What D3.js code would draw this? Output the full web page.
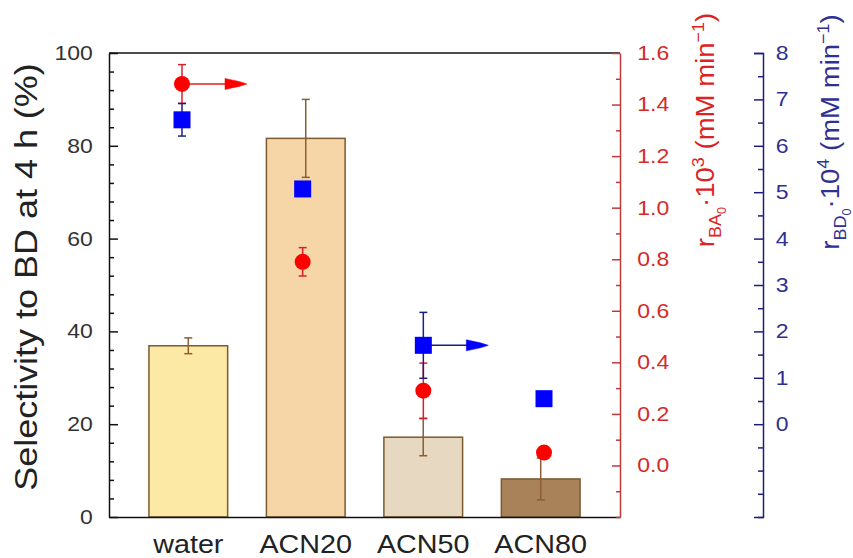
<!DOCTYPE html>
<html>
<head>
<meta charset="utf-8">
<script src="https://cdn.jsdelivr.net/npm/d3@7"></script>
<style>
  body { margin: 0; background: #fff; }
  svg { font-family: "Liberation Sans", Arial, sans-serif; }
  .domain { stroke-width: 1.5; }
  .tick line { stroke-width: 1.5; }
</style>
</head>
<body>
<svg width="853" height="558"></svg>
<script>
const categories = ["water", "ACN20", "ACN50", "ACN80"];

// bars: selectivity to BD at 4 h (%)
const selectivity = [36.9, 81.6, 17.2, 8.2];
const selectivityErr = [1.7, 8.4, 4.0, 4.5];

// red circles: r_BA0 * 10^3
const rBA = [1.48, 0.79, 0.29, 0.05];
const rBAErr = [0.075, 0.055, 0.107, 0];

// blue squares: r_BD0 * 10^4
const rBD = [6.56, 5.07, 1.70, 0.55];
const rBDErr = [0.35, 0, 0.71, 0];

// arrows pointing to the matching axis
const arrows = [
  { cat: "water", series: "BA" },
  { cat: "ACN50", series: "BD" }
];

const leftTicks = [0, 20, 40, 60, 80, 100];
const redTicks = [0.0, 0.2, 0.4, 0.6, 0.8, 1.0, 1.2, 1.4, 1.6];
const blueTicks = [0, 1, 2, 3, 4, 5, 6, 7, 8];

const barFill = ["#fde9a6", "#f6d5a6", "#e7d8c1", "#a9825a"];
const barStroke = "#7a5a2e";
const errBrown = "#8b5e34";
const red = "#ff0000";
const redAxis = "#c0393b";
const redText = "#d62a2a";
const blue = "#0000ff";
const navy = "#1d1d80";
const navyText = "#2e3192";

const svg = d3.select("svg");
const m = { left: 109, right: 620, top: 53, bottom: 517 };
const blueX = 763;
const k = 1.15; // horizontal stretch of the lettering

const x = d3.scaleBand()
  .domain(categories)
  .range([m.left, m.right])
  .paddingInner(0.33)
  .paddingOuter(0.34);

const xm = d3.scalePoint()
  .domain(categories)
  .range([182, 544]);

const y = d3.scaleLinear().domain([0, 100]).range([m.bottom, m.top]);
const yRed = d3.scaleLinear().domain([-0.2, 1.6]).range([m.bottom, m.top]);
const yBlue = d3.scaleLinear().domain([-2, 8]).range([m.bottom, m.top]);

const rows = categories.map((c, i) => ({
  cat: c, sel: selectivity[i], selErr: selectivityErr[i],
  ba: rBA[i], baErr: rBAErr[i], bd: rBD[i], bdErr: rBDErr[i], fill: barFill[i]
}));

// bars
svg.append("g").selectAll("rect")
  .data(rows)
  .join("rect")
    .attr("x", d => x(d.cat))
    .attr("y", d => y(d.sel))
    .attr("width", x.bandwidth())
    .attr("height", d => y(0) - y(d.sel))
    .attr("fill", d => d.fill)
    .attr("stroke", barStroke)
    .attr("stroke-width", 1.5);

const errorBars = (data, cx, cy, v, e, color) => {
  const g = svg.append("g")
    .attr("stroke", color)
    .attr("stroke-width", 1.5);
  const cap = 4;
  const items = g.selectAll("g")
    .data(data.filter(d => d[e] > 0))
    .join("g");
  items.append("line")
    .attr("x1", cx).attr("x2", cx)
    .attr("y1", d => cy(d[v] + d[e]))
    .attr("y2", d => cy(d[v] - d[e]));
  [1, -1].forEach(s => items.append("line")
    .attr("x1", d => cx(d) - cap).attr("x2", d => cx(d) + cap)
    .attr("y1", d => cy(d[v] + s * d[e]))
    .attr("y2", d => cy(d[v] + s * d[e])));
};

errorBars(rows, d => x(d.cat) + x.bandwidth() / 2, y, "sel", "selErr", errBrown);
errorBars(rows, d => xm(d.cat), yRed, "ba", "baErr", "#d8202a");
errorBars(rows, d => xm(d.cat), yBlue, "bd", "bdErr", navy);

// arrows
const arrowHead = "M0,-5.5 L14,-2.5 L22,0 L14,2.5 L0,5.5 Z";
arrows.forEach(a => {
  const i = categories.indexOf(a.cat);
  const cx = xm(a.cat);
  const cy = a.series === "BA" ? yRed(rBA[i]) : yBlue(rBD[i]);
  const col = a.series === "BA" ? "#e02020" : navy;
  const fill = a.series === "BA" ? red : blue;
  const g = svg.append("g").attr("transform", `translate(${cx},${cy})`);
  g.append("line")
    .attr("x1", 0).attr("x2", 50)
    .attr("stroke", col)
    .attr("stroke-width", 1.5);
  g.append("path")
    .attr("transform", "translate(43,0)")
    .attr("d", arrowHead)
    .attr("fill", fill)
    .attr("stroke", fill)
    .attr("stroke-width", 0.5);
});

// markers
svg.append("g").selectAll("circle")
  .data(rows)
  .join("circle")
    .attr("cx", d => xm(d.cat))
    .attr("cy", d => yRed(d.ba))
    .attr("r", 8)
    .attr("fill", red);

svg.append("g").selectAll("rect")
  .data(rows)
  .join("rect")
    .attr("x", d => xm(d.cat) - 8.5)
    .attr("y", d => yBlue(d.bd) - 8.5)
    .attr("width", 17)
    .attr("height", 17)
    .attr("fill", blue);

// frame
svg.append("line")
  .attr("x1", m.left).attr("x2", m.right)
  .attr("y1", m.top).attr("y2", m.top)
  .attr("stroke", "#111").attr("stroke-width", 1.5);

// bottom axis
const gx = svg.append("g")
  .attr("transform", `translate(0,${m.bottom})`)
  .call(d3.axisBottom(x).tickSize(0).tickPadding(18));
gx.select(".domain").attr("stroke", "#111");
gx.selectAll("text")
  .attr("font-size", 25)
  .attr("fill", "#222")
  .attr("transform", `scale(${k},1)`);

// left axis
const minor = (step, lo, hi, majors) =>
  d3.range(lo, hi + step / 2, step).filter(v => !majors.some(t => Math.abs(t - v) < 1e-6));

const gl = svg.append("g").attr("transform", `translate(${m.left},0)`);
gl.append("g")
  .call(d3.axisLeft(y).tickValues(minor(4, 0, 100, leftTicks)).tickSize(-5).tickSizeOuter(0).tickFormat(""))
  .call(g => g.select(".domain").remove());
gl.append("g")
  .call(d3.axisLeft(y).tickValues(leftTicks).tickSize(-9).tickSizeOuter(0).tickPadding(14))
  .call(g => g.selectAll("text")
    .attr("font-size", 20)
    .attr("fill", "#333")
    .attr("transform", `scale(${k},1)`));
gl.selectAll("path, line").attr("stroke", "#111");

// red axis
const gr = svg.append("g").attr("transform", `translate(${m.right},0)`);
gr.append("g")
  .call(d3.axisRight(yRed).tickValues(minor(0.1, -0.2, 1.6, redTicks)).tickSize(-4).tickSizeOuter(0).tickFormat(""))
  .call(g => g.select(".domain").remove());
gr.append("g")
  .call(d3.axisRight(yRed).tickValues(redTicks).tickSize(-8).tickSizeOuter(0).tickPadding(15).tickFormat(d3.format(".1f")))
  .call(g => g.selectAll("text")
    .attr("font-size", 20)
    .attr("fill", redText)
    .attr("transform", `scale(${k},1)`));
gr.selectAll("path, line").attr("stroke", redAxis);

// blue axis
const gb = svg.append("g").attr("transform", `translate(${blueX},0)`);
gb.append("g")
  .call(d3.axisRight(yBlue).tickValues(minor(0.5, -2, 8, blueTicks)).tickSize(-5).tickSizeOuter(0).tickFormat(""))
  .call(g => g.select(".domain").remove());
gb.append("g")
  .call(d3.axisRight(yBlue).tickValues(blueTicks).tickSize(-9).tickSizeOuter(-9).tickPadding(11))
  .call(g => g.selectAll("text")
    .attr("font-size", 20)
    .attr("fill", navyText)
    .attr("transform", `scale(${k},1)`));
gb.selectAll("path, line").attr("stroke", navy);

// axis titles
svg.append("text")
  .attr("transform", `translate(37,277) rotate(-90) scale(1.16,1)`)
  .attr("text-anchor", "middle")
  .attr("font-size", 31)
  .attr("fill", "#222")
  .text("Selectivity to BD at 4 h (%)");

const rateTitle = (cx, cy, sub, pow, color) => {
  const t = svg.append("text")
    .attr("transform", `translate(${cx},${cy}) rotate(-90) scale(1.06,1)`)
    .attr("text-anchor", "middle")
    .attr("font-size", 26)
    .attr("fill", color);
  t.append("tspan").text("r");
  t.append("tspan").attr("font-size", 17).attr("dy", 7).text(sub);
  t.append("tspan").attr("font-size", 12).attr("dy", 5).text("0");
  t.append("tspan").attr("dy", -12).text("·10");
  t.append("tspan").attr("font-size", 17).attr("dy", -10).text(pow);
  t.append("tspan").attr("dy", 10).text(" (mM min");
  t.append("tspan").attr("font-size", 17).attr("dy", -10).text("−1");
  t.append("tspan").attr("dy", 10).text(")");
};

rateTitle(714, 130, "BA", "3", "#dd2222");
rateTitle(839, 132, "BD", "4", navyText);
</script>
</body>
</html>
